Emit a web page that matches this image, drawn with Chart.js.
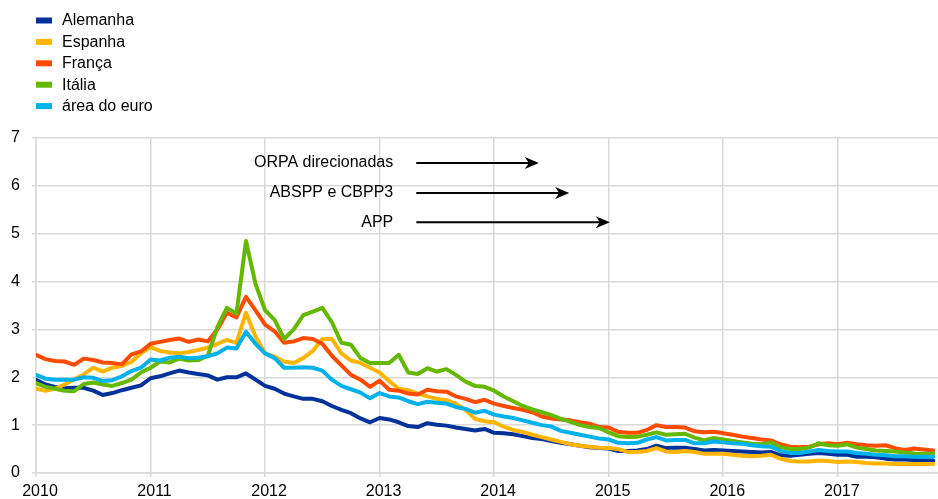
<!DOCTYPE html>
<html>
<head>
<meta charset="utf-8">
<script src="https://cdn.jsdelivr.net/npm/chart.js@4.4.1/dist/chart.umd.min.js"></script>
<style>
  html, body { margin: 0; padding: 0; background: #fff; }
  #wrap { width: 938px; height: 499px; position: relative; }
</style>
</head>
<body>
<div id="wrap"><canvas id="chart"></canvas></div>
<script>
// monthly series, Jan 2010 .. Nov 2017
const startYear = 2010;
const countries = ["Alemanha", "Espanha", "França", "Itália", "área do euro"];

const alemanha = [
  1.95, 1.85, 1.80, 1.77, 1.78, 1.78, 1.72, 1.63, 1.67, 1.73, 1.78, 1.83,
  1.98, 2.02, 2.08, 2.14, 2.10, 2.07, 2.04, 1.95, 2.00, 2.00, 2.08, 1.95,
  1.82, 1.76, 1.66, 1.60, 1.55, 1.55, 1.50, 1.40, 1.32, 1.25, 1.14, 1.06,
  1.15, 1.12, 1.06, 0.98, 0.96, 1.04, 1.01, 0.99, 0.95, 0.92, 0.89, 0.92,
  0.84, 0.83, 0.81, 0.77, 0.73, 0.71, 0.67, 0.63, 0.60, 0.57, 0.54, 0.52,
  0.51, 0.46, 0.46, 0.47, 0.50, 0.57, 0.52, 0.53, 0.53, 0.50, 0.47, 0.48,
  0.47, 0.46, 0.45, 0.44, 0.43, 0.44, 0.37, 0.36, 0.38, 0.40, 0.42, 0.40,
  0.38, 0.38, 0.34, 0.34, 0.33, 0.30, 0.28, 0.28, 0.27, 0.26, 0.26
];
const espanha = [
  1.76, 1.72, 1.76, 1.85, 1.96, 2.06, 2.20, 2.12, 2.20, 2.24, 2.32, 2.50,
  2.63, 2.55, 2.52, 2.50, 2.53, 2.57, 2.62, 2.70, 2.78, 2.72, 3.35, 2.85,
  2.50, 2.43, 2.33, 2.30, 2.40, 2.55, 2.80, 2.80, 2.50, 2.35, 2.30, 2.20,
  2.10, 1.92, 1.76, 1.73, 1.66, 1.60, 1.55, 1.52, 1.45, 1.32, 1.13, 1.08,
  1.06, 0.97, 0.90, 0.86, 0.80, 0.75, 0.70, 0.65, 0.60, 0.57, 0.55, 0.53,
  0.52, 0.50, 0.44, 0.44, 0.46, 0.52, 0.45, 0.44, 0.46, 0.44, 0.40, 0.40,
  0.40, 0.38, 0.36, 0.35, 0.36, 0.38, 0.30, 0.25, 0.24, 0.24, 0.26, 0.25,
  0.23, 0.24, 0.23, 0.21, 0.20, 0.20, 0.19, 0.19, 0.19, 0.19, 0.19
];
const franca = [
  2.47, 2.38, 2.34, 2.33, 2.26, 2.39, 2.36, 2.31, 2.30, 2.27, 2.48, 2.54,
  2.70, 2.74, 2.78, 2.81, 2.74, 2.79, 2.75, 3.00, 3.35, 3.25, 3.68, 3.40,
  3.10, 2.96, 2.72, 2.75, 2.82, 2.80, 2.70, 2.45, 2.25, 2.05, 1.95, 1.80,
  1.93, 1.74, 1.72, 1.66, 1.64, 1.74, 1.71, 1.70, 1.60, 1.55, 1.48, 1.53,
  1.45, 1.40, 1.36, 1.32, 1.27, 1.18, 1.14, 1.12, 1.10, 1.06, 1.03, 0.96,
  0.95, 0.86, 0.84, 0.84, 0.90, 1.00, 0.96, 0.96, 0.95, 0.87, 0.85, 0.86,
  0.83, 0.80, 0.76, 0.73, 0.70, 0.68, 0.60, 0.55, 0.54, 0.55, 0.60, 0.62,
  0.60, 0.63, 0.60, 0.58, 0.57, 0.58, 0.52, 0.48, 0.51, 0.49, 0.47
];
const italia = [
  1.88, 1.80, 1.76, 1.72, 1.71, 1.86, 1.89, 1.85, 1.82, 1.88, 1.95, 2.10,
  2.20, 2.33, 2.31, 2.39, 2.35, 2.36, 2.45, 3.05, 3.45, 3.33, 4.85, 3.95,
  3.40, 3.20, 2.80, 3.00, 3.30, 3.37, 3.45, 3.15, 2.72, 2.68, 2.40, 2.30,
  2.30, 2.30, 2.47, 2.10, 2.07, 2.19, 2.12, 2.17, 2.05, 1.91, 1.82, 1.80,
  1.72, 1.60, 1.50, 1.40, 1.33, 1.27, 1.21, 1.13, 1.07, 1.00, 0.96, 0.94,
  0.85, 0.77, 0.75, 0.76, 0.80, 0.85, 0.80, 0.81, 0.82, 0.74, 0.68, 0.73,
  0.70, 0.67, 0.64, 0.61, 0.60, 0.64, 0.54, 0.50, 0.50, 0.53, 0.62, 0.58,
  0.57, 0.60, 0.53, 0.50, 0.47, 0.46, 0.45, 0.43, 0.41, 0.40, 0.40
];
const areaEuro = [
  2.05, 1.97, 1.95, 1.95, 1.95, 2.00, 1.99, 1.92, 1.94, 2.02, 2.13, 2.20,
  2.37, 2.35, 2.41, 2.43, 2.40, 2.41, 2.44, 2.50, 2.62, 2.60, 2.95, 2.70,
  2.50, 2.40, 2.20, 2.20, 2.21, 2.20, 2.14, 1.95, 1.82, 1.75, 1.68, 1.56,
  1.67, 1.60, 1.58, 1.50, 1.44, 1.49, 1.47, 1.45, 1.38, 1.34, 1.26, 1.30,
  1.22, 1.18, 1.15, 1.10, 1.05, 1.00, 0.97, 0.88, 0.84, 0.80, 0.76, 0.72,
  0.70, 0.63, 0.62, 0.63, 0.70, 0.75, 0.68, 0.69, 0.69, 0.62, 0.62, 0.66,
  0.64, 0.62, 0.61, 0.58, 0.56, 0.55, 0.46, 0.42, 0.42, 0.45, 0.48, 0.46,
  0.45, 0.45, 0.42, 0.40, 0.38, 0.37, 0.35, 0.35, 0.34, 0.34, 0.34
];

const series = [alemanha, espanha, franca, italia, areaEuro];
const colors = ["#003299", "#ffb400", "#ff4b00", "#65b800", "#00b1ea"];

// policy announcements (label, date the arrow points to)
const programmes = ["ORPA direcionadas", "ABSPP e CBPP3", "APP"];
const programmeDates = [2014.39, 2014.655, 2015.01];

Chart.defaults.font.family = '"Liberation Sans", Arial, sans-serif';
Chart.defaults.font.size = 16;
Chart.defaults.color = "#000";

const toPoints = (arr) => arr.map((v, i) => ({ x: startYear + i / 12, y: v }));

// legend stacked in one column at top left
const columnLegend = {
  id: "columnLegend",
  afterDraw(chart) {
    const ctx = chart.ctx;
    ctx.save();
    ctx.font = '16px "Liberation Sans", Arial, sans-serif';
    ctx.textBaseline = "middle";
    ctx.textAlign = "left";
    chart.data.datasets.forEach((ds, i) => {
      const y = 20.5 + i * 21.4;
      ctx.fillStyle = ds.borderColor;
      ctx.fillRect(36, y - 3, 16, 6);
      ctx.fillStyle = "#000";
      ctx.fillText(ds.label, 62, y + 0.5);
    });
    ctx.restore();
  }
};

// text + arrow for each programme
const arrows = {
  id: "arrows",
  afterDatasetsDraw(chart) {
    const { ctx, scales: { x, y } } = chart;
    const levels = [6.48, 5.85, 5.24];
    const fromX = x.getPixelForValue(2013.32);
    ctx.save();
    ctx.font = '16px "Liberation Sans", Arial, sans-serif';
    ctx.textBaseline = "middle";
    ctx.textAlign = "right";
    ctx.fillStyle = "#000";
    ctx.strokeStyle = "#000";
    ctx.lineWidth = 2;
    programmes.forEach((label, i) => {
      const py = y.getPixelForValue(levels[i]);
      const tip = x.getPixelForValue(programmeDates[i]);
      ctx.fillText(label, fromX - 23, py);
      ctx.beginPath();
      ctx.moveTo(fromX, py);
      ctx.lineTo(tip - 8, py);
      ctx.stroke();
      ctx.beginPath();
      ctx.moveTo(tip, py);
      ctx.lineTo(tip - 14, py - 6);
      ctx.lineTo(tip - 10, py);
      ctx.lineTo(tip - 14, py + 6);
      ctx.closePath();
      ctx.fill();
    });
    ctx.restore();
  }
};

new Chart(document.getElementById("chart"), {
  type: "line",
  data: {
    datasets: countries.map((name, i) => ({
      label: name,
      data: toPoints(series[i]),
      borderColor: colors[i],
      backgroundColor: colors[i],
      borderWidth: 4,
      borderJoinStyle: "round",
      borderCapStyle: "round",
      pointRadius: 0,
      tension: 0,
      order: countries.length - 1 - i,
    })),
  },
  options: {
    responsive: true,
    maintainAspectRatio: false,
    animation: false,
    layout: { padding: { top: 138, right: 0, left: 0, bottom: 0 }, autoPadding: false },
    plugins: {
      legend: { display: false },
      tooltip: { enabled: false },
    },
    scales: {
      x: {
        type: "linear",
        min: 2010,
        max: 2017.875,
        grid: { color: "#d9d9d9", lineWidth: 1.5, tickLength: 4 },
        border: { color: "#d9d9d9", width: 1.5 },
        ticks: {
          stepSize: 1,
          includeBounds: false,
          padding: 5,
          labelOffset: 4,
          maxRotation: 0,
          callback: (v) => String(v),
        },
        afterFit: (s) => { s.height = 26; },
      },
      y: {
        min: 0,
        max: 7,
        grid: { color: "#d9d9d9", lineWidth: 1.5, tickLength: 4 },
        border: { color: "#d9d9d9", width: 1.5 },
        ticks: { stepSize: 1, padding: 12 },
        afterFit: (s) => { s.width = 36; },
      },
    },
  },
  plugins: [columnLegend, arrows],
});
</script>
</body>
</html>
